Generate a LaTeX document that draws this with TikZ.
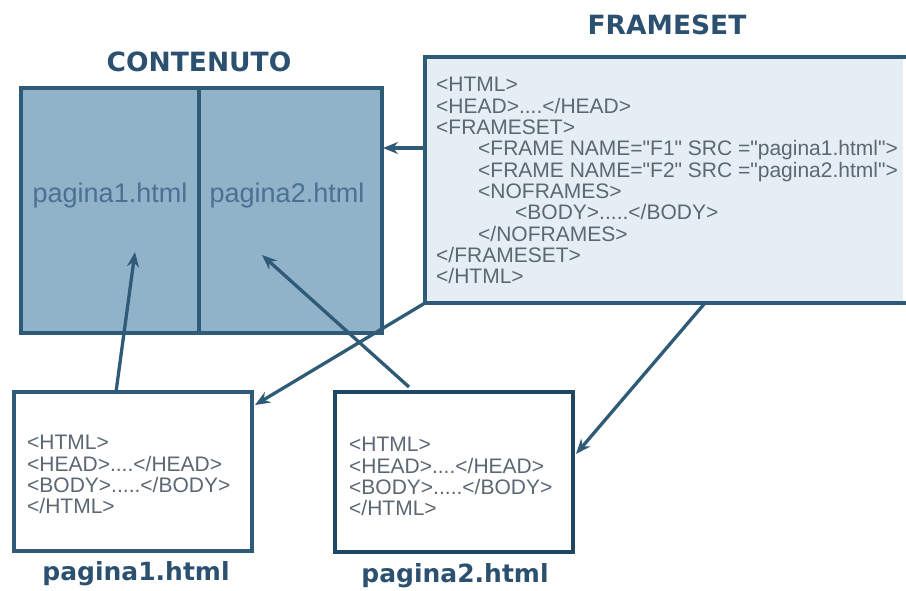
\documentclass[tikz,border=0pt]{standalone}
\usepackage{fontspec}
\setmainfont{Liberation Sans}
\newfontfamily\codefont{Liberation Sans}[Ligatures=TeXOff]
\newfontfamily\titlefont{DejaVu Sans}
\usetikzlibrary{arrows.meta}

\definecolor{edgeblue}{HTML}{2F5A78}
\definecolor{titleblue}{HTML}{2C5170}
\definecolor{darkedge}{HTML}{1F4763}
\definecolor{contfill}{HTML}{91B3CA}
\definecolor{contlabel}{HTML}{4A7192}
\definecolor{setfill}{HTML}{E6EEF5}
\definecolor{codegray}{HTML}{5B6773}

\tikzset{
  titletext/.style={font=\titlefont\bfseries\fontsize{26.5}{30}\selectfont, text=titleblue, inner sep=0pt},
  filename/.style={font=\titlefont\bfseries\fontsize{25}{30}\selectfont, text=titleblue, inner sep=0pt},
  pagelabel/.style={font=\fontsize{27}{32}\selectfont, text=contlabel, inner sep=0pt},
  codetext/.style={font=\codefont\fontsize{21}{21.3}\selectfont, text=codegray, align=left, inner sep=0pt, anchor=north west},
  boxline/.style={draw=edgeblue, line width=3.4pt},
  link/.style={draw=edgeblue, line width=3.3pt, -{Stealth[length=15pt,width=12pt]}},
}

\begin{document}
\begin{tikzpicture}[x=1pt,y=-1pt]
\useasboundingbox (0,0) rectangle (906,591);
\fill[white] (0,0) rectangle (906,591);

% titles
\node[titletext] (tcont) at (199,62) {CONTENUTO};
\node[titletext] (tset) at (667,25) {FRAMESET};

% the window split into two frames
\node[boxline, fill=contfill, minimum width=361pt, minimum height=245pt, inner sep=0pt, outer sep=0pt, anchor=north west] (cont) at (21,88) {};
\draw[boxline] (199,88) -- (199,333);
\node[pagelabel] (lab1) at (110,196) {pagina1.html};
\node[pagelabel] (lab2) at (287,196) {pagina2.html};

% frameset document, running off the right edge
\fill[setfill] (425,57) rectangle (903,303);
\draw[boxline] (908,57) -- (425,57) -- (425,303) -- (908,303);
\coordinate (setw) at (425,148);
\coordinate (setsw) at (425,303);
\coordinate (setbot) at (705,303);
\node[codetext] (setcode) at (436,77.3) {%
<HTML>\\
<HEAD>....</HEAD>\\
<FRAMESET>\\
\hspace*{42pt}<FRAME NAME="F1" SRC ="pagina1.html">\\
\hspace*{42pt}<FRAME NAME="F2" SRC ="pagina2.html">\\
\hspace*{42pt}<NOFRAMES>\\
\hspace*{79pt}<BODY>.....</BODY>\\
\hspace*{42pt}</NOFRAMES>\\
</FRAMESET>\\
</HTML>};

% the two page documents
\node[boxline, fill=white, minimum width=238pt, minimum height=159pt, inner sep=0pt, outer sep=0pt, anchor=north west] (p1) at (14,392) {};
\node[codetext] (p1code) at (27,435.3) {%
<HTML>\\
<HEAD>....</HEAD>\\
<BODY>.....</BODY>\\
</HTML>};
\node[filename] (p1name) at (136,574) {pagina1.html};

\node[boxline, draw=darkedge, line width=4pt, fill=white, minimum width=238pt, minimum height=160pt, inner sep=0pt, outer sep=0pt, anchor=north west] (p2) at (335,392) {};
\node[codetext] (p2code) at (349,437.3) {%
<HTML>\\
<HEAD>....</HEAD>\\
<BODY>.....</BODY>\\
</HTML>};
\node[filename] (p2name) at (455,576) {pagina2.html};

% connectors
\coordinate (conte) at (383,148);
\coordinate (tip1) at (135,252);
\coordinate (tip2) at (262,255);
\coordinate (p1top) at (116,392);
\coordinate (p2top) at (409,387);
\coordinate (p1e) at (255,405);
\coordinate (p2e) at (576,454);

\draw[link] (setw) -- (conte);
\draw[link] (p1top) -- (tip1);
\draw[link] (p2top) -- (tip2);
\draw[link] (setsw) -- (p1e);
\draw[link] (setbot) -- (p2e);
\end{tikzpicture}
\end{document}
